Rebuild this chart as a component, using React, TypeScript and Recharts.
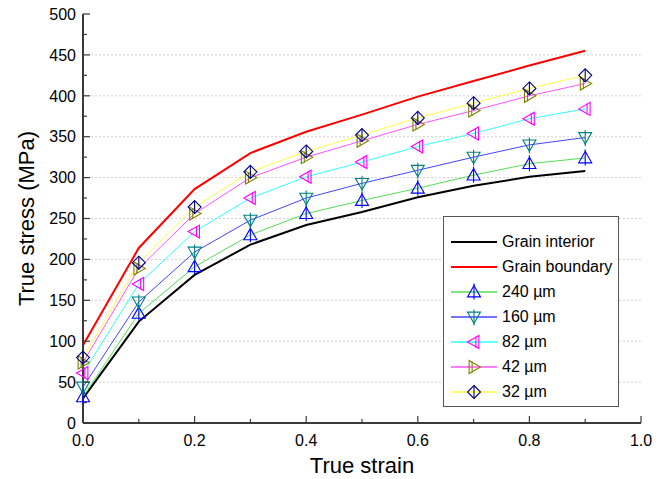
import React from 'react';
import { LineChart, Line, XAxis, YAxis, ReferenceLine, Legend } from 'recharts';

const strain = [0, 0.1, 0.2, 0.3, 0.4, 0.5, 0.6, 0.7, 0.8, 0.9];
const grainInterior = [30, 124, 181, 218, 242, 258, 276, 290, 301, 308];
const grainBoundary = [95, 214, 286, 330, 356, 377, 399, 418, 437, 455];
const um240 = [32, 134, 191, 230, 256, 272, 287, 303, 317, 324];
const um160 = [44, 148, 209, 248, 275, 293, 309, 325, 340, 349];
const um82 = [61, 170, 234, 275, 301, 319, 338, 354, 372, 384];
const um42 = [74, 189, 256, 300, 325, 345, 365, 382, 400, 415];
const um32 = [80, 196, 264, 307, 332, 352, 373, 391, 409, 425];

const xTicks = [0, 0.1, 0.2, 0.3, 0.4, 0.5, 0.6, 0.7, 0.8, 0.9, 1.0];
const yTicks = [0, 25, 50, 75, 100, 125, 150, 175, 200, 225, 250, 275, 300, 325, 350, 375, 400, 425, 450, 475, 500];
const gridValues = [50, 100, 150, 200, 250, 300, 350, 400, 450];

const FONT = 'Arial, "Liberation Sans", sans-serif';
const AXIS = '#3a3a3a';

const data = strain.map((s, i) => ({
  s,
  interior: grainInterior[i],
  boundary: grainBoundary[i],
  um240: um240[i],
  um160: um160[i],
  um82: um82[i],
  um42: um42[i],
  um32: um32[i],
}));

type Kind = 'up' | 'down' | 'left' | 'right' | 'diamond';

// open marker with the little centre stroke Origin draws
const Marker = ({ cx, cy, kind, color }: { cx: number; cy: number; kind: Kind; color: string }) => {
  const r = 6.5;
  let pts = '';
  let stick: [number, number, number, number] = [cx, cy - r, cx, cy + r];
  if (kind === 'up') {
    pts = `${cx},${cy - r} ${cx - r},${cy + r * 0.75} ${cx + r},${cy + r * 0.75}`;
    stick = [cx, cy - r - 2, cx, cy + r + 1];
  } else if (kind === 'down') {
    pts = `${cx},${cy + r} ${cx - r},${cy - r * 0.75} ${cx + r},${cy - r * 0.75}`;
    stick = [cx, cy - r - 1, cx, cy + r + 2];
  } else if (kind === 'left') {
    pts = `${cx - r},${cy} ${cx + r * 0.75},${cy - r} ${cx + r * 0.75},${cy + r}`;
    stick = [cx + r * 0.75 - 3, cy - r + 1, cx + r * 0.75 - 3, cy + r - 1];
  } else if (kind === 'right') {
    pts = `${cx + r},${cy} ${cx - r * 0.75},${cy - r} ${cx - r * 0.75},${cy + r}`;
    stick = [cx - r * 0.75 + 3, cy - r + 1, cx - r * 0.75 + 3, cy + r - 1];
  } else {
    pts = `${cx},${cy - r} ${cx + r},${cy} ${cx},${cy + r} ${cx - r},${cy}`;
  }
  return (
    <g>
      <polygon points={pts} fill="none" stroke={color} strokeWidth={1.1} />
      <line x1={stick[0]} y1={stick[1]} x2={stick[2]} y2={stick[3]} stroke={color} strokeWidth={1.1} />
    </g>
  );
};

const series = [
  { key: 'interior', name: 'Grain interior', line: '#000000', width: 2, kind: null as Kind | null, mark: '' },
  { key: 'boundary', name: 'Grain boundary', line: '#ff0000', width: 2, kind: null as Kind | null, mark: '' },
  { key: 'um240', name: '240 µm', line: '#55dd55', width: 1, kind: 'up' as Kind, mark: '#0000ff' },
  { key: 'um160', name: '160 µm', line: '#4444ff', width: 1, kind: 'down' as Kind, mark: '#008080' },
  { key: 'um82', name: '82 µm', line: '#33ffff', width: 1, kind: 'left' as Kind, mark: '#ff00ff' },
  { key: 'um42', name: '42 µm', line: '#ff55ff', width: 1, kind: 'right' as Kind, mark: '#808000' },
  { key: 'um32', name: '32 µm', line: '#ffff44', width: 1, kind: 'diamond' as Kind, mark: '#000080' },
];

const YTick = (props: any) => {
  const { x, y, payload } = props;
  const major = payload.value % 50 === 0;
  return (
    <g>
      <line x1={x} x2={x + (major ? 7 : 4)} y1={y} y2={y} stroke={AXIS} strokeWidth={1.2} />
      {major && (
        <text x={x - 7} y={y} dy="0.36em" textAnchor="end" fontSize={16} fontFamily={FONT} fill="#000">
          {payload.value}
        </text>
      )}
    </g>
  );
};

const XTick = (props: any) => {
  const { x, y, payload, index } = props;
  const major = index % 2 === 0;
  return (
    <g>
      <line x1={x} x2={x} y1={y} y2={y - (major ? 7 : 4)} stroke={AXIS} strokeWidth={1.2} />
      {major && (
        <text x={x} y={y + 23} textAnchor="middle" fontSize={16} fontFamily={FONT} fill="#000">
          {payload.value.toFixed(1)}
        </text>
      )}
    </g>
  );
};

const renderLegend = () => (
  <div
    style={{
      width: 176,
      height: 191,
      border: '1px solid #555',
      background: '#fff',
      boxSizing: 'border-box',
      fontFamily: FONT,
      fontSize: 16,
      color: '#000',
      paddingTop: 12,
    }}
  >
    {series.map((s) => (
      <div key={s.key} style={{ display: 'flex', alignItems: 'center', height: 25 }}>
        <svg width={58} height={20} style={{ flex: 'none' }}>
          <line x1={7} x2={53} y1={10} y2={10} stroke={s.line} strokeWidth={s.width === 2 ? 2 : 1.5} />
          {s.kind && <Marker cx={30} cy={10} kind={s.kind} color={s.mark} />}
        </svg>
        <span>{s.name}</span>
      </div>
    ))}
  </div>
);

export default function App() {
  return (
    <div style={{ position: 'absolute', left: 0, top: 0, background: '#fff' }}>
      <LineChart width={670} height={479} data={data} margin={{ top: 14, right: 29, bottom: 0, left: 0 }}>
        {gridValues.map((v) => (
          <ReferenceLine key={v} y={v} stroke="#d0d0d0" strokeDasharray="2 2" strokeWidth={1} />
        ))}
        <XAxis
          dataKey="s"
          type="number"
          domain={[0, 1]}
          ticks={xTicks}
          interval={0}
          tickSize={0}
          tickMargin={0}
          tick={<XTick />}
          axisLine={{ stroke: AXIS, strokeWidth: 2 }}
          height={56}
          label={{ value: 'True strain', position: 'insideBottom', offset: 6, fontSize: 22, fontFamily: FONT, fill: '#000' }}
        />
        <XAxis xAxisId="top" orientation="top" type="number" domain={[0, 1]} height={0} tick={false} tickLine={false} axisLine={{ stroke: AXIS, strokeWidth: 1.5 }} />
        <YAxis
          type="number"
          domain={[0, 500]}
          ticks={yTicks}
          interval={0}
          tickSize={0}
          tickMargin={0}
          tick={<YTick />}
          axisLine={{ stroke: AXIS, strokeWidth: 2 }}
          width={83}
          label={{
            value: 'True stress (MPa)',
            angle: -90,
            position: 'insideLeft',
            offset: 26,
            fontSize: 22,
            fontFamily: FONT,
            fill: '#000',
            style: { textAnchor: 'middle' },
          }}
        />
        <YAxis yAxisId="right" orientation="right" type="number" domain={[0, 500]} width={0} tick={false} tickLine={false} axisLine={{ stroke: AXIS, strokeWidth: 1.5 }} />
        {series.map((s) => (
          <Line
            key={s.key}
            dataKey={s.key}
            name={s.name}
            stroke={s.line}
            strokeWidth={s.width}
            type="linear"
            isAnimationActive={false}
            dot={
              s.kind
                ? (p: any) => <Marker key={`${s.key}-${p.index}`} cx={p.cx} cy={p.cy} kind={s.kind as Kind} color={s.mark} />
                : false
            }
            activeDot={false}
          />
        ))}
        <Legend
          content={renderLegend}
          layout="vertical"
          align="center"
          verticalAlign="middle"
          wrapperStyle={{ position: 'absolute', left: 443, top: 216, width: 176, height: 191 }}
        />
      </LineChart>
    </div>
  );
}
